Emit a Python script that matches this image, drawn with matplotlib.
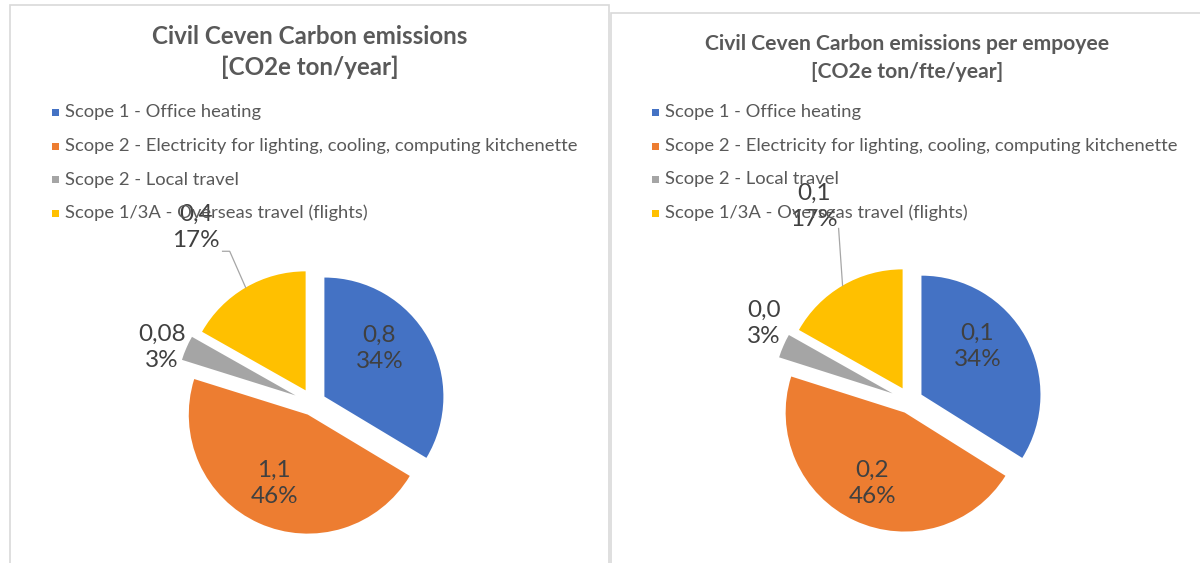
import matplotlib
matplotlib.use("Agg")
import numpy as np
import matplotlib.pyplot as plt
from matplotlib.patches import Rectangle
from matplotlib.lines import Line2D

# ---------------- data ----------------
categories = [
    "Scope 1 - Office heating",
    "Scope 2 - Electricity for lighting, cooling, computing kitchenette",
    "Scope 2 - Local travel",
    "Scope 1/3A - Overseas travel (flights)",
]
total_values = [0.8, 1.1, 0.08, 0.4]              # CO2e ton/year
per_fte_values = [0.135, 0.183, 0.013, 0.067]     # CO2e ton/fte/year
titles = [
    "Civil Ceven Carbon emissions\n[CO2e ton/year]",
    "Civil Ceven Carbon emissions per empoyee\n[CO2e ton/fte/year]",
]

# ---------------- style / layout ----------------
colors = ["#4472C4", "#ED7D31", "#A5A5A5", "#FFC000"]
explode = [0.11, 0.107, 0.16, 0.123]
W, H = 1200, 563
R_PX = 119          # pie radius in pixels
HALF = 230          # half size of pie axes in pixels
FONT = ["Lato", "DejaVu Sans"]
plt.rcParams["font.family"] = FONT

fig = plt.figure(figsize=(W / 100, H / 100), dpi=100)
fig.patch.set_facecolor("white")


def fx(x):
    return x / W


def fy(y):
    return 1 - y / H


# panel borders
for (x0, y0, x1, y1) in [(10, 5, 609, 566), (611, 13, 1202, 566)]:
    fig.add_artist(Rectangle((fx(x0), fy(y1)), fx(x1 - x0), (y1 - y0) / H,
                             transform=fig.transFigure, fill=False,
                             edgecolor="#d9d9d9", linewidth=1.2))

panels = [
    dict(values=total_values, fmt=lambda v: f"{v:g}".replace(".", ","),
         center=(313, 403), title_xy=(310, 52), title_size=17.4, title_ls=1.35,
         legend_x=52, legend_y=[112, 146, 180, 213],
         label_pos=[(0.558, 0.458), (-0.325, -0.675), (-1.267, 0.467), (-0.983, 1.475)],
         leader=[(-0.76, 1.275), (-0.70, 1.275)]),
    dict(values=per_fte_values, fmt=lambda v: f"{v:.1f}".replace(".", ","),
         center=(910, 401), title_xy=(907, 58), title_size=15.2, title_ls=1.5,
         legend_x=652, legend_y=[112, 146, 179, 213],
         label_pos=[(0.567, 0.458), (-0.317, -0.69), (-1.225, 0.65), (-0.808, 1.633)],
         leader=[(-0.60, 1.45)]),
]

lim = HALF / R_PX
for k, p in enumerate(panels):
    cx, cy = p["center"]
    ax = fig.add_axes([fx(cx - HALF), fy(cy + HALF), 2 * HALF / W, 2 * HALF / H])
    vals = p["values"]
    wedges, _ = ax.pie(vals, colors=colors, explode=explode, startangle=90,
                       counterclock=False, radius=1.0,
                       wedgeprops=dict(linewidth=0))
    ax.set_xlim(-lim, lim)
    ax.set_ylim(-lim, lim)
    ax.axis("off")
    tot = sum(vals)
    for i, (v, w) in enumerate(zip(vals, wedges)):
        lx, ly = p["label_pos"][i]
        ax.text(lx, ly, f"{p['fmt'](v)}\n{round(100 * v / tot):d}%",
                ha="center", va="center", fontsize=17.5, color="#404040",
                linespacing=1.32, clip_on=False, zorder=5)
    # leader line for the yellow slice
    w = wedges[3]
    th = np.deg2rad((w.theta1 + w.theta2) / 2)
    ex = w.center[0] + w.r * np.cos(th)
    ey = w.center[1] + w.r * np.sin(th)
    xs = [pt[0] for pt in p["leader"]] + [ex]
    ys = [pt[1] for pt in p["leader"]] + [ey]
    ax.add_line(Line2D(xs, ys, color="#a6a6a6", linewidth=0.9, clip_on=False, zorder=4))

    # title
    tx, ty = p["title_xy"]
    fig.text(fx(tx), fy(ty), titles[k], ha="center", va="center",
             fontsize=p["title_size"], fontweight="bold", color="#595959",
             linespacing=p["title_ls"])
    # legend
    for i, cat in enumerate(categories):
        yy = p["legend_y"][i]
        fig.add_artist(Rectangle((fx(p["legend_x"]), fy(yy + 3.5)), 7 / W, 7 / H,
                                 transform=fig.transFigure, facecolor=colors[i],
                                 edgecolor="none", zorder=3))
        fig.text(fx(p["legend_x"] + 13), fy(yy), cat, ha="left", va="center",
                 fontsize=13.2, color="#595959", zorder=3)

fig.savefig("out.png", dpi=100, facecolor="white")
